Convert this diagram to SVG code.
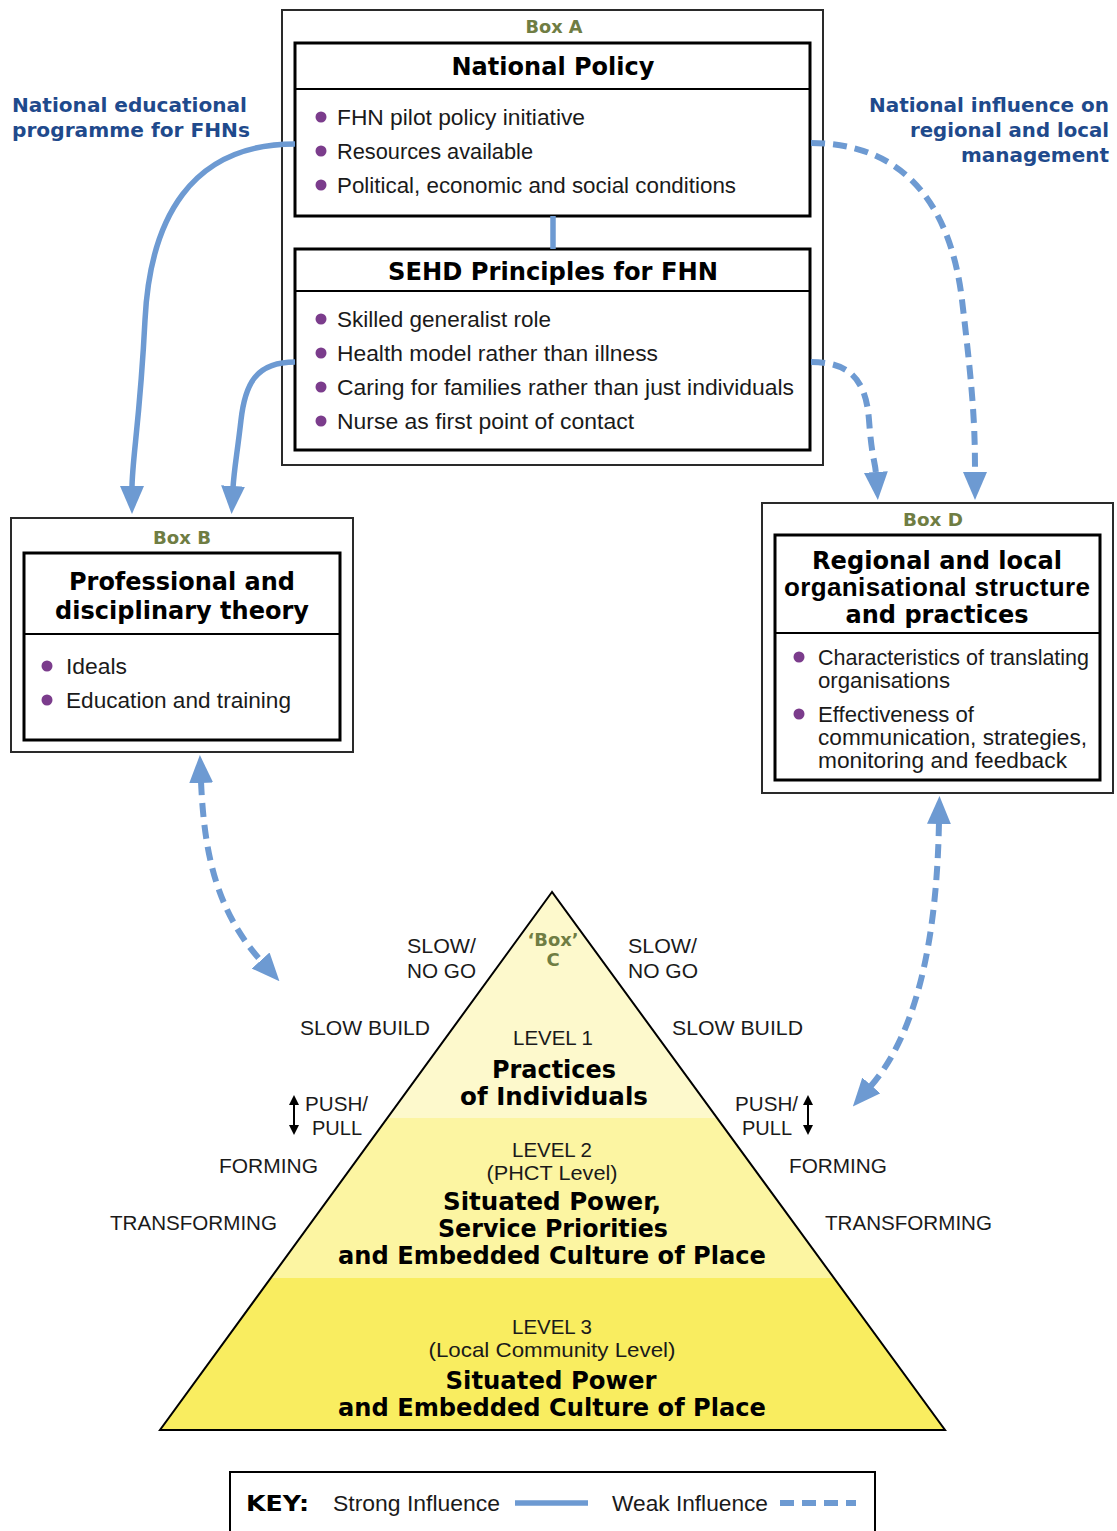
<svg xmlns="http://www.w3.org/2000/svg" width="1117" height="1531" viewBox="0 0 1117 1531">
  <style>
    .outer { fill: #fff; stroke: #2a2a2a; stroke-width: 2; }
    .inner { fill: #fff; stroke: #000; stroke-width: 3; }
    .rule { stroke: #000; stroke-width: 2; }
    .boxlbl { font-family: "DejaVu Sans", Verdana, sans-serif; font-weight: bold; font-size: 18px; fill: #6f7d43; text-anchor: middle; }
    .title { font-family: "DejaVu Sans", Verdana, sans-serif; font-weight: bold; font-size: 25px; fill: #000; text-anchor: middle; }
    .titlen { font-family: "Liberation Sans", Arial, sans-serif; font-weight: bold; font-size: 26px; fill: #000; text-anchor: middle; }
    .item { font-family: "Liberation Sans", Arial, sans-serif; font-size: 22px; fill: #1a1a1a; }
    .bul { fill: #7b3c8c; }
    .note { font-family: "DejaVu Sans", Verdana, sans-serif; font-weight: bold; font-size: 20px; fill: #1f4a8c; }
    .side { font-family: "Liberation Sans", Arial, sans-serif; font-size: 21px; fill: #1a1a1a; }
    .lvl { font-family: "Liberation Sans", Arial, sans-serif; font-size: 21px; fill: #1a1a1a; text-anchor: middle; }
    .lvlb { font-family: "DejaVu Sans", Verdana, sans-serif; font-weight: bold; font-size: 25px; fill: #000; text-anchor: middle; }
    .strong { fill: none; stroke: #6d9ad2; stroke-width: 5.5; }
    .weak { fill: none; stroke: #6d9ad2; stroke-width: 6; stroke-dasharray: 14 8; }
  </style>
  <defs>
    <marker id="ah" markerUnits="userSpaceOnUse" markerWidth="28" markerHeight="24" viewBox="0 0 28 24" refX="2" refY="12" orient="auto-start-reverse">
      <path d="M0,0 L28,12 L0,24 z" fill="#6d9ad2"/>
    </marker>
    <marker id="sh" markerUnits="userSpaceOnUse" markerWidth="10" markerHeight="10" viewBox="0 0 10 10" refX="1" refY="5" orient="auto-start-reverse">
      <path d="M0,0 L10,5 L0,10 z" fill="#000"/>
    </marker>
  </defs>

  <!-- Box A: national policy and SEHD principles -->
  <g id="boxA">
    <rect class="outer" x="282" y="10" width="541" height="455"/>
    <text class="boxlbl" x="554" y="33" textLength="57" lengthAdjust="spacingAndGlyphs">Box A</text>
  </g>
  <g id="national-policy">
    <rect class="inner" x="295" y="43" width="515" height="173"/>
    <line class="rule" x1="295" y1="89" x2="810" y2="89"/>
    <text class="title" x="553" y="75" textLength="203" lengthAdjust="spacingAndGlyphs">National Policy</text>
    <circle class="bul" cx="321" cy="117" r="5.5"/>
    <text class="item" x="337" y="125" textLength="248" lengthAdjust="spacingAndGlyphs">FHN pilot policy initiative</text>
    <circle class="bul" cx="321" cy="151" r="5.5"/>
    <text class="item" x="337" y="159" textLength="196" lengthAdjust="spacingAndGlyphs">Resources available</text>
    <circle class="bul" cx="321" cy="185" r="5.5"/>
    <text class="item" x="337" y="193" textLength="399" lengthAdjust="spacingAndGlyphs">Political, economic and social conditions</text>
  </g>
  <g id="sehd-principles">
    <rect class="inner" x="295" y="249" width="515" height="201"/>
    <line class="rule" x1="295" y1="291" x2="810" y2="291"/>
    <text class="title" x="553" y="280" textLength="330" lengthAdjust="spacingAndGlyphs">SEHD Principles for FHN</text>
    <circle class="bul" cx="321" cy="319" r="5.5"/>
    <text class="item" x="337" y="327" textLength="214" lengthAdjust="spacingAndGlyphs">Skilled generalist role</text>
    <circle class="bul" cx="321" cy="353" r="5.5"/>
    <text class="item" x="337" y="361" textLength="321" lengthAdjust="spacingAndGlyphs">Health model rather than illness</text>
    <circle class="bul" cx="321" cy="387" r="5.5"/>
    <text class="item" x="337" y="395" textLength="457" lengthAdjust="spacingAndGlyphs">Caring for families rather than just individuals</text>
    <circle class="bul" cx="321" cy="421" r="5.5"/>
    <text class="item" x="337" y="429" textLength="297" lengthAdjust="spacingAndGlyphs">Nurse as first point of contact</text>
  </g>

  <!-- Box B -->
  <g id="boxB">
    <rect class="outer" x="11" y="518" width="342" height="234"/>
    <text class="boxlbl" x="182" y="544" textLength="58" lengthAdjust="spacingAndGlyphs">Box B</text>
    <rect class="inner" x="24" y="553" width="316" height="187"/>
    <line class="rule" x1="24" y1="634" x2="340" y2="634"/>
    <text class="title" x="182" y="590" textLength="226" lengthAdjust="spacingAndGlyphs">Professional and</text>
    <text class="title" x="182" y="619" textLength="254" lengthAdjust="spacingAndGlyphs">disciplinary theory</text>
    <circle class="bul" cx="47" cy="666" r="5.5"/>
    <text class="item" x="66" y="674" textLength="61" lengthAdjust="spacingAndGlyphs">Ideals</text>
    <circle class="bul" cx="47" cy="700" r="5.5"/>
    <text class="item" x="66" y="708" textLength="225" lengthAdjust="spacingAndGlyphs">Education and training</text>
  </g>

  <!-- Box D -->
  <g id="boxD">
    <rect class="outer" x="762" y="503" width="351" height="290"/>
    <text class="boxlbl" x="933" y="526" textLength="60" lengthAdjust="spacingAndGlyphs">Box D</text>
    <rect class="inner" x="775" y="535" width="325" height="245"/>
    <line class="rule" x1="775" y1="633" x2="1100" y2="633"/>
    <text class="title" x="937" y="569" textLength="250" lengthAdjust="spacingAndGlyphs">Regional and local</text>
    <text class="titlen" x="937" y="596" textLength="306">organisational structure</text>
    <text class="title" x="937" y="623" textLength="183" lengthAdjust="spacingAndGlyphs">and practices</text>
    <circle class="bul" cx="799" cy="657" r="5.5"/>
    <text class="item" x="818" y="665" textLength="271" lengthAdjust="spacingAndGlyphs">Characteristics of translating</text>
    <text class="item" x="818" y="688" textLength="132" lengthAdjust="spacingAndGlyphs">organisations</text>
    <circle class="bul" cx="799" cy="714" r="5.5"/>
    <text class="item" x="818" y="722" textLength="156" lengthAdjust="spacingAndGlyphs">Effectiveness of</text>
    <text class="item" x="818" y="745" textLength="269" lengthAdjust="spacingAndGlyphs">communication, strategies,</text>
    <text class="item" x="818" y="768" textLength="249" lengthAdjust="spacingAndGlyphs">monitoring and feedback</text>
  </g>

  <!-- Influence labels -->
  <g id="label-education">
    <text class="note" x="12" y="112" textLength="235" lengthAdjust="spacingAndGlyphs">National educational</text>
    <text class="note" x="12" y="137" textLength="238" lengthAdjust="spacingAndGlyphs">programme for FHNs</text>
  </g>
  <g id="label-influence">
    <text class="note" x="1109" y="112" text-anchor="end" textLength="240" lengthAdjust="spacingAndGlyphs">National influence on</text>
    <text class="note" x="1109" y="137" text-anchor="end" textLength="199" lengthAdjust="spacingAndGlyphs">regional and local</text>
    <text class="note" x="1109" y="162" text-anchor="end" textLength="148" lengthAdjust="spacingAndGlyphs">management</text>
  </g>

  <!-- Box C: the pyramid -->
  <g id="boxC">
    <polygon points="552,892 387,1118 717,1118" fill="#fdf9cc"/>
    <polygon points="387,1118 717,1118 834,1278 271,1278" fill="#fcf5a2"/>
    <polygon points="271,1278 834,1278 945,1430 160,1430" fill="#f9ed60"/>
    <polygon points="552,892 160,1430 945,1430" fill="none" stroke="#000" stroke-width="2" stroke-linejoin="miter"/>
    <text class="boxlbl" x="553" y="946" font-size="17" textLength="51" lengthAdjust="spacingAndGlyphs">‘Box’</text>
    <text class="boxlbl" x="553" y="966" font-size="17">C</text>
    <text class="lvl" x="553" y="1045" textLength="80" lengthAdjust="spacingAndGlyphs">LEVEL 1</text>
    <text class="lvlb" x="554" y="1078" textLength="124" lengthAdjust="spacingAndGlyphs">Practices</text>
    <text class="lvlb" x="554" y="1105" textLength="188" lengthAdjust="spacingAndGlyphs">of Individuals</text>
    <text class="lvl" x="552" y="1157" textLength="80" lengthAdjust="spacingAndGlyphs">LEVEL 2</text>
    <text class="lvl" x="552" y="1180" textLength="131" lengthAdjust="spacingAndGlyphs">(PHCT Level)</text>
    <text class="lvlb" x="552" y="1210" textLength="218" lengthAdjust="spacingAndGlyphs">Situated Power,</text>
    <text class="lvlb" x="553" y="1237" textLength="230" lengthAdjust="spacingAndGlyphs">Service Priorities</text>
    <text class="lvlb" x="552" y="1264" textLength="428" lengthAdjust="spacingAndGlyphs">and Embedded Culture of Place</text>
    <text class="lvl" x="552" y="1334" textLength="80" lengthAdjust="spacingAndGlyphs">LEVEL 3</text>
    <text class="lvl" x="552" y="1357" textLength="247" lengthAdjust="spacingAndGlyphs">(Local Community Level)</text>
    <text class="lvlb" x="551" y="1389" textLength="211" lengthAdjust="spacingAndGlyphs">Situated Power</text>
    <text class="lvlb" x="552" y="1416" textLength="428" lengthAdjust="spacingAndGlyphs">and Embedded Culture of Place</text>
  </g>

  <!-- Side scale, left -->
  <g id="scale-left">
    <text class="side" x="407" y="953" textLength="69" lengthAdjust="spacingAndGlyphs">SLOW/</text>
    <text class="side" x="407" y="978" textLength="69" lengthAdjust="spacingAndGlyphs">NO GO</text>
    <text class="side" x="300" y="1035" textLength="130" lengthAdjust="spacingAndGlyphs">SLOW BUILD</text>
    <line x1="294" y1="1104" x2="294" y2="1126" stroke="#000" stroke-width="2" marker-start="url(#sh)" marker-end="url(#sh)"/>
    <text class="side" x="305" y="1111" textLength="63" lengthAdjust="spacingAndGlyphs">PUSH/</text>
    <text class="side" x="312" y="1135" textLength="50" lengthAdjust="spacingAndGlyphs">PULL</text>
    <text class="side" x="219" y="1173" textLength="99" lengthAdjust="spacingAndGlyphs">FORMING</text>
    <text class="side" x="110" y="1230" textLength="167" lengthAdjust="spacingAndGlyphs">TRANSFORMING</text>
  </g>
  <!-- Side scale, right -->
  <g id="scale-right">
    <text class="side" x="628" y="953" textLength="69" lengthAdjust="spacingAndGlyphs">SLOW/</text>
    <text class="side" x="628" y="978" textLength="70" lengthAdjust="spacingAndGlyphs">NO GO</text>
    <text class="side" x="672" y="1035" textLength="131" lengthAdjust="spacingAndGlyphs">SLOW BUILD</text>
    <line x1="808" y1="1104" x2="808" y2="1126" stroke="#000" stroke-width="2" marker-start="url(#sh)" marker-end="url(#sh)"/>
    <text class="side" x="735" y="1111" textLength="63" lengthAdjust="spacingAndGlyphs">PUSH/</text>
    <text class="side" x="742" y="1135" textLength="50" lengthAdjust="spacingAndGlyphs">PULL</text>
    <text class="side" x="789" y="1173" textLength="98" lengthAdjust="spacingAndGlyphs">FORMING</text>
    <text class="side" x="825" y="1230" textLength="167" lengthAdjust="spacingAndGlyphs">TRANSFORMING</text>
  </g>

  <!-- Connectors -->
  <g id="connectors">
    <line class="strong" x1="553" y1="216" x2="553" y2="249"/>
    <path class="strong" d="M295,144 C190,144 150,220 145,320 S132,460 132,488" marker-end="url(#ah)"/>
    <path class="strong" d="M295,362 C255,362 245,385 241,420 S234,470 233,488" marker-end="url(#ah)"/>
    <path class="weak" d="M811,143 C900,143 950,200 962,300 S975,430 975,474" marker-end="url(#ah)"/>
    <path class="weak" d="M811,362 C850,362 866,380 869,420 S875,460 876,474" marker-end="url(#ah)"/>
    <path class="weak" d="M201,781 C204,850 215,910 262,962" marker-start="url(#ah)" marker-end="url(#ah)"/>
    <path class="weak" d="M939,822 C937,930 920,1030 870,1087" marker-start="url(#ah)" marker-end="url(#ah)"/>
  </g>

  <!-- Key -->
  <g id="key">
    <rect x="230" y="1472" width="645" height="80" fill="#fff" stroke="#000" stroke-width="2"/>
    <text x="246" y="1511" font-family="DejaVu Sans, Verdana, sans-serif" font-weight="bold" font-size="22" fill="#000" textLength="63" lengthAdjust="spacingAndGlyphs">KEY:</text>
    <text class="item" x="333" y="1511" textLength="167" lengthAdjust="spacingAndGlyphs">Strong Influence</text>
    <line class="strong" x1="515" y1="1503" x2="588" y2="1503"/>
    <text class="item" x="612" y="1511" textLength="156" lengthAdjust="spacingAndGlyphs">Weak Influence</text>
    <line class="weak" x1="780" y1="1503" x2="856" y2="1503" stroke-dasharray="15 9"/>
  </g>
</svg>
